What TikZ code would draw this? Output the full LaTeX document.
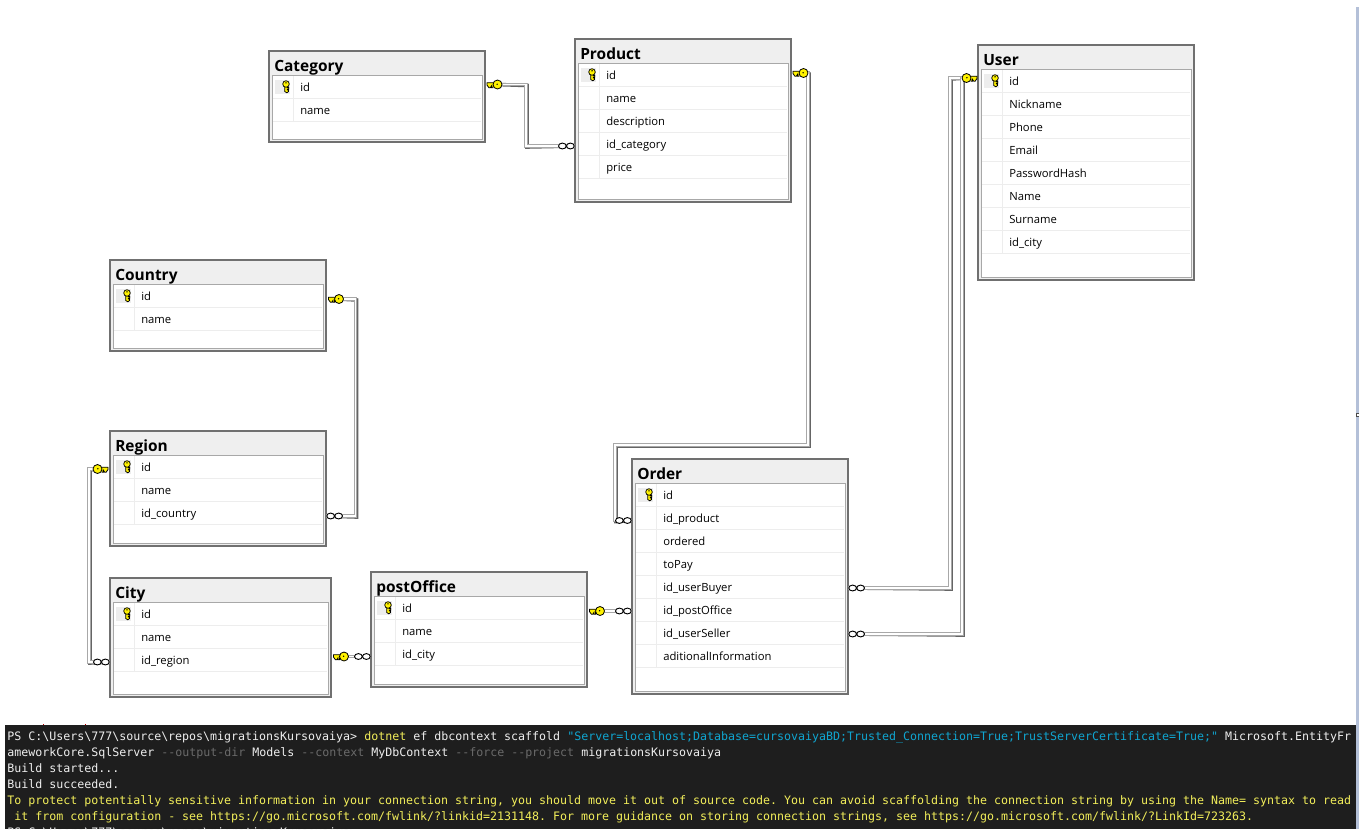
\documentclass[tikz,border=0pt]{standalone}
\usepackage{fontspec}
\setmainfont{Open Sans}
\setmonofont{DejaVu Sans Mono}
\definecolor{hdr}{HTML}{EFEFEF}
\definecolor{brd}{HTML}{707070}
\definecolor{ibrd}{HTML}{A8A8A8}
\definecolor{sep}{HTML}{EDEDED}
\definecolor{termbg}{HTML}{1E1E1E}
\definecolor{termw}{HTML}{EEEEEE}
\definecolor{termy}{HTML}{F2EE5A}
\definecolor{termc}{HTML}{10A5D0}
\definecolor{termg}{HTML}{6A6A6A}
\definecolor{keyy}{HTML}{FFF200}
\definecolor{strip}{HTML}{B4C0D8}
\tikzset{
  x=0.75pt,y=-0.75pt,
  tablebox/.style={draw=brd,line width=.8pt,fill=hdr,inner sep=0pt,outer sep=0pt,anchor=north west},
  titletext/.style={font=\fontsize{11.6}{13}\selectfont\bfseries,anchor=base west,inner sep=0pt,text=black},
  rowtext/.style={font=\fontsize{8.45}{11}\selectfont,anchor=base west,inner sep=0pt,text=black},
  reldark/.style={draw=brd!90!black,line width=2.7pt},
  rellight/.style={draw=ibrd,line width=2.7pt},
  relin/.style={draw=white,line width=1pt},
  termtext/.style={font=\fontsize{8.72}{11}\ttfamily,anchor=base west,inner sep=0pt},
}
% name, x0,y0,x1,y1, nrows, title, rows
\newcommand{\tbl}[8]{%
  \node[tablebox,minimum width={(#4-#2)*0.75pt},minimum height={(#5-#3)*0.75pt}] (#1) at (#2,#3) {};
  \node[titletext] (#1T) at (#2+5,#3+20) {#7};
  \path[draw=ibrd,line width=.75pt,fill=white] (#2+3,#3+24) rectangle (#4-3,#5-3);
  \fill[sep] (#2+6,#3+29) rectangle (#2+21,#3+43);
  \draw[sep,line width=.75pt] (#2+24,#3+25) -- (#2+24,#3+24+23*#6);
  \foreach \t [count=\i] in {#8}{
    \node[rowtext] (#1r\i) at (#2+31,#3+40+23*\i-23) {\t};
    \draw[sep,line width=.75pt] (#2+4,#3+24+23*\i) -- (#4-4,#3+24+23*\i);
  }
  \begin{scope}[shift={(#2+17,#3+33)}]
    \fill[keyy,draw=black,line width=.55pt] (-1.3,2) -- (1.3,2) -- (1.3,3.5) -- (2.8,3.5) -- (2.8,5) -- (1.3,5) -- (1.3,6) -- (2.6,6) -- (2.6,7.5) -- (.8,8.8) -- (-1.3,7.5) -- cycle;
    \fill[keyy,draw=black,line width=.55pt] (0,0) circle (3.3);
    \fill[black] (0,-1.2) circle (.8);
  \end{scope}
}
% key on its side: #1 bow centre, #2 = 1 stem left, -1 stem right, #3 node name
\newcommand{\sidekey}[3]{%
  \node[inner sep=0pt,minimum size=0pt] (#3) at (#1) {};
  \begin{scope}[shift={(#1)},xscale=#2]
    \fill[keyy,draw=black,line width=.6pt] (-10.5,-1.8) -- (-3,-1.8) -- (-3,1.4) -- (-4.5,1.4) -- (-4.5,3.2) -- (-6,3.2) -- (-6,1.4) -- (-7.2,3.2) -- (-8.6,3.2) -- (-10.5,.6) -- cycle;
    \fill[keyy,draw=black,line width=.6pt] (0,0) circle (4.5);
    \fill[black] (-.4,-.3) circle (.8);
  \end{scope}}
% two linked rings beside the table edge
\newcommand{\rings}[2]{%
  \begin{scope}[shift={(#1)}]
  \draw[black,line width=.7pt,fill=white] (#2*12.6,0) ellipse (3.9 and 2.9);
  \draw[black,line width=.7pt,fill=white] (#2*4.6,0) ellipse (3.9 and 2.9);
  \end{scope}}
\newcommand{\relline}[1]{%
  \begin{scope}[shift={(1,1)}]\draw[reldark] #1;\end{scope}
  \draw[rellight] #1; \draw[relin] #1;}
\begin{document}
\begin{tikzpicture}
\useasboundingbox (0,0) rectangle (1359,829);
\fill[white] (0,0) rectangle (1359,829);
\fill[strip] (1356,7) rectangle (1359,829);
\fill[white,draw=black!70,line width=.5pt] (1356.3,413) rectangle (1359,416.5);

\tbl{Category}{269}{51}{485}{142}{2}{Category}{id,name}
\tbl{Product}{575}{39}{791}{202}{5}{Product}{id,name,description,id\_category,price}
\tbl{User}{978}{45}{1194}{280}{8}{User}{id,Nickname,Phone,Email,PasswordHash,Name,Surname,id\_city}
\tbl{Country}{110}{260}{326}{351}{2}{Country}{id,name}
\tbl{Region}{110}{431}{326}{546}{3}{Region}{id,name,id\_country}
\tbl{City}{110}{578}{331}{697}{3}{City}{id,name,id\_region}
\tbl{postOffice}{371}{572}{587}{687}{3}{postOffice}{id,name,id\_city}
\tbl{Order}{632}{459}{848}{694}{8}{Order}{id,id\_product,ordered,toPay,id\_userBuyer,id\_postOffice,id\_userSeller,aditionalInformation}

% ends of the relationship lines
\coordinate (catK) at (497.5,84.5);
\coordinate (prodM) at (Product.west |- 0,146);
\coordinate (prodK) at (803.5,73);
\coordinate (ordPM) at (Order.west |- 0,520.5);
\coordinate (userK) at (966.5,78);
\coordinate (ordB) at (Order.east |- 0,588);
\coordinate (ordS) at (Order.east |- 0,634);
\coordinate (couK) at (339,299);
\coordinate (regM) at (Region.east |- 0,516);
\coordinate (regK) at (97.5,469);
\coordinate (cityM) at (City.west |- 0,662);
\coordinate (cityK) at (344,656.5);
\coordinate (poM) at (postOffice.west |- 0,656.5);
\coordinate (poK) at (600,611);
\coordinate (ordPO) at (Order.west |- 0,611);

\relline{(catK) -- (526,84.5) -- (526,146) -- (prodM)}
\relline{(prodK) -- (808,73) -- (808,445) -- (615,445) -- (615,520.5) -- (ordPM)}
\relline{(ordB) -- (950,588) -- (950,78) -- (userK)}
\relline{(ordS) -- (962,634) -- (962,78) -- (userK)}
\relline{(couK) -- (355.5,299) -- (355.5,516) -- (regM)}
\relline{(regK) -- (89,469) -- (89,662) -- (cityM)}
\relline{(cityK) -- (poM)}
\relline{(poK) -- (ordPO)}

\rings{prodM}{-1}
\rings{ordPM}{-1}
\rings{ordB}{1}
\rings{ordS}{1}
\rings{regM}{1}
\rings{cityM}{-1}
\rings{poM}{-1}
\rings{ordPO}{-1}

\sidekey{catK}{1}{catKey}
\sidekey{prodK}{1}{prodKey}
\sidekey{userK}{-1}{userKey}
\sidekey{couK}{1}{couKey}
\sidekey{regK}{-1}{regKey}
\sidekey{cityK}{1}{cityKey}
\sidekey{poK}{1}{poKey}

% terminal
\fill[termbg] (5,725) rectangle (1356,829);
\fill[red!75!black] (43,724) rectangle (44,725);
\fill[red!75!black] (85,724) rectangle (86,725);
\begin{scope}
\clip (5,725) rectangle (1356,829);
\node[termtext,text=termw] (t1) at (7,740) {PS C:\textbackslash Users\textbackslash 777\textbackslash source\textbackslash repos\textbackslash migrationsKursovaiya> \textcolor{termy}{dotnet} ef dbcontext scaffold \textcolor{termc}{"Server=localhost;Database=cursovaiyaBD;Trusted\_Connection=True;TrustServerCertificate=True;"} Microsoft.EntityFr};
\node[termtext,text=termw] (t2) at (7,756) {ameworkCore.SqlServer \textcolor{termg}{--output-dir} Models \textcolor{termg}{--context} MyDbContext \textcolor{termg}{--force --project} migrationsKursovaiya};
\node[termtext,text=termw] (t3) at (7,772) {Build started...};
\node[termtext,text=termw] (t4) at (7,788) {Build succeeded.};
\node[termtext,text=termy] (t5) at (7,804) {To protect potentially sensitive information in your connection string, you should move it out of source code. You can avoid scaffolding the connection string by using the Name= syntax to read};
\node[termtext,text=termy] (t6) at (7,820) {\ it from configuration - see https://go.microsoft.com/fwlink/?linkid=2131148. For more guidance on storing connection strings, see https://go.microsoft.com/fwlink/?LinkId=723263.};
\node[termtext,text=termw] (t7) at (7,836) {PS C:\textbackslash Users\textbackslash 777\textbackslash source\textbackslash repos\textbackslash migrationsKursovaiya>};
\end{scope}
\end{tikzpicture}
\end{document}
